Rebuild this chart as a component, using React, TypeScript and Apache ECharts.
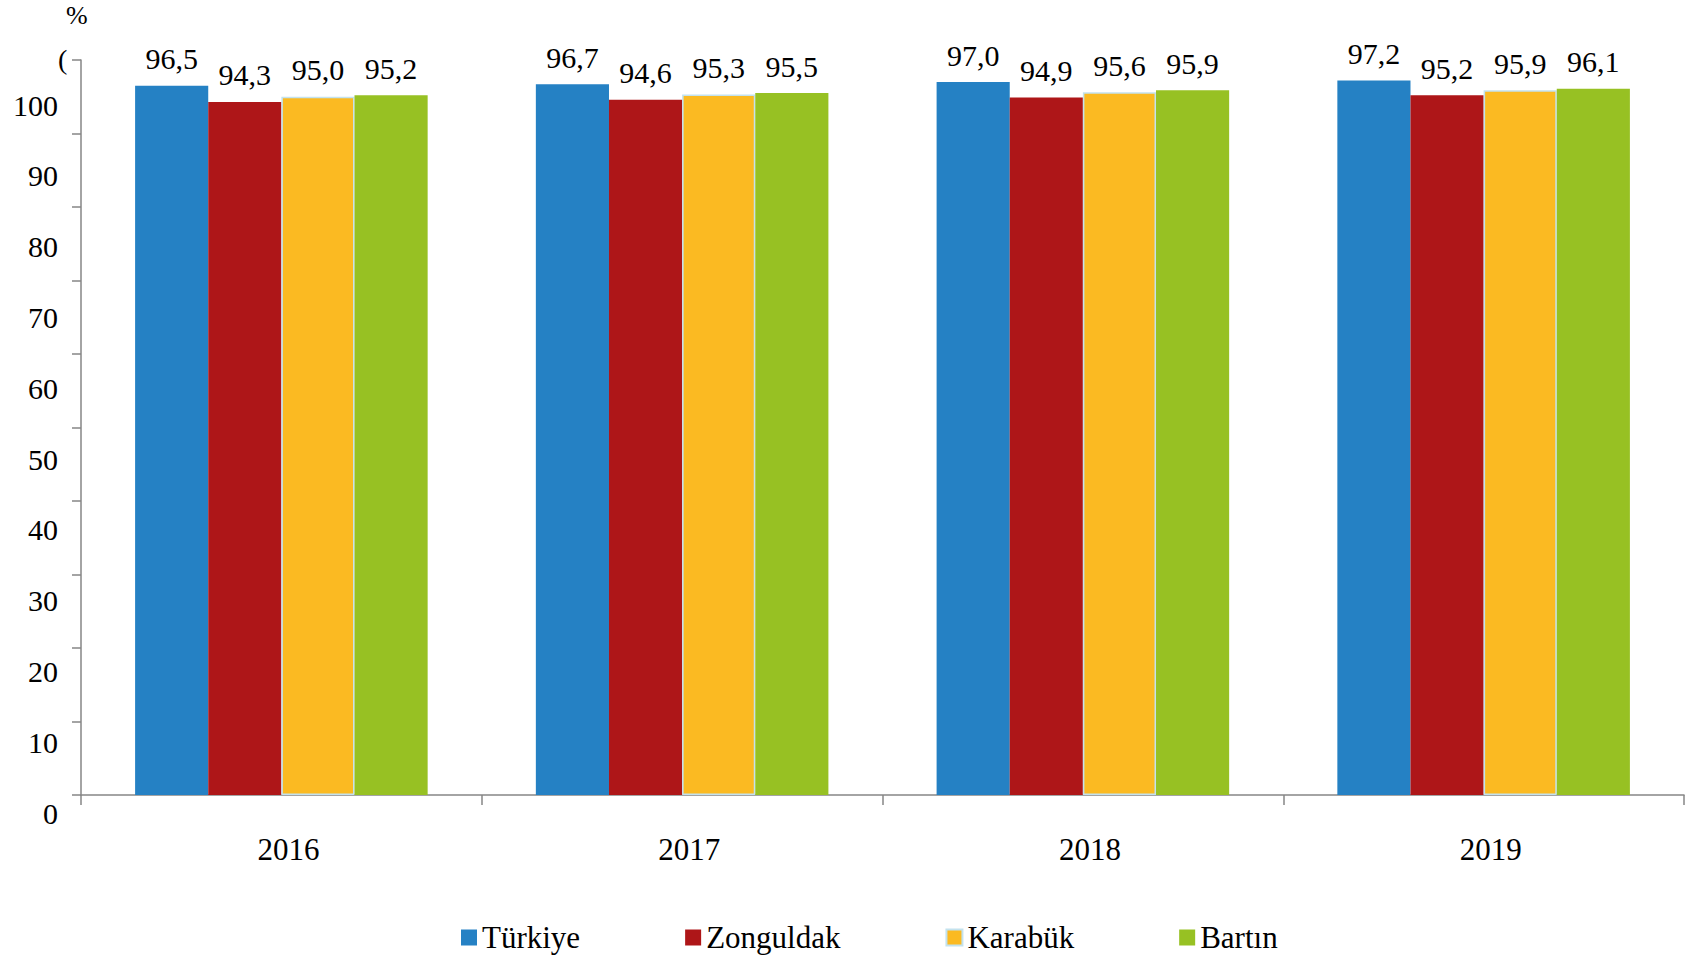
import React, { useEffect, useRef } from 'react';
import * as echarts from 'echarts';

const years = ['2016', '2017', '2018', '2019'];
const seriesNames = ['Türkiye', 'Zonguldak', 'Karabük', 'Bartın'];
const turkiye = [96.5, 96.7, 97.0, 97.2];
const zonguldak = [94.3, 94.6, 94.9, 95.2];
const karabuk = [95.0, 95.3, 95.6, 95.9];
const bartin = [95.2, 95.5, 95.9, 96.1];
const unitLabel = '%';
const cutLabel = '(';

const FONT = '"Liberation Serif", "DejaVu Serif", serif';
const colors = ['#2581c4', '#ae1618', '#fbba22', '#97c123'];

export default function App() {
  const ref = useRef<HTMLDivElement>(null);
  useEffect(() => {
    document.body.style.margin = '0';
    document.body.style.overflow = 'hidden';
    const chart = echarts.init(ref.current!, undefined, { renderer: 'svg' });
    const values = [turkiye, zonguldak, karabuk, bartin];
    const fmt = (p: any) => Number(p.value).toFixed(1).replace('.', ',');
    chart.setOption({
      animation: false,
      backgroundColor: '#ffffff',
      textStyle: { fontFamily: FONT },
      legend: {
        data: seriesNames,
        left: 456,
        top: 917,
        icon: 'rect',
        itemWidth: 16,
        itemHeight: 16,
        itemGap: 105,
        textStyle: { fontFamily: FONT, fontSize: 31, color: '#000' },
      },
      graphic: [
        { type: 'text', left: 66, top: 2, style: { text: unitLabel, font: `26px ${FONT}`, fill: '#000' } },
        { type: 'text', left: 58, top: 45, style: { text: cutLabel, font: `28px ${FONT}`, fill: '#000' } },
      ],
      grid: [
        { left: 81, right: 12, top: 60, bottom: 160 },
        { left: 81, right: 12, top: 105, bottom: 142 },
      ],
      xAxis: [
        {
          type: 'category',
          data: years,
          gridIndex: 0,
          axisLine: { show: true, lineStyle: { color: '#868686', width: 1.5 } },
          axisTick: { show: true, length: 10, lineStyle: { color: '#868686', width: 1.5 } },
          axisLabel: { margin: 39, fontSize: 31, color: '#000', fontFamily: FONT, padding: [0, 0, 0, 14] },
        },
        { type: 'value', gridIndex: 1, show: false },
      ],
      yAxis: [
        {
          type: 'value',
          gridIndex: 0,
          min: 0,
          max: 100,
          interval: 10,
          axisLine: { show: true, lineStyle: { color: '#868686', width: 1.5 } },
          axisTick: { show: true, length: 9, lineStyle: { color: '#868686', width: 1.5 } },
          axisLabel: { show: false },
          splitLine: { show: false },
        },
        {
          type: 'value',
          gridIndex: 1,
          min: 0,
          max: 100,
          interval: 10,
          axisLine: { show: false },
          axisTick: { show: false },
          splitLine: { show: false },
          axisLabel: { margin: 23, fontSize: 30, color: '#000', fontFamily: FONT },
        },
      ],
      series: seriesNames.map((name, i) => ({
        name,
        type: 'bar',
        xAxisIndex: 0,
        yAxisIndex: 0,
        data: values[i],
        barGap: '0%',
        barCategoryGap: '27%',
        itemStyle: {
          color: colors[i],
          borderColor: i === 2 ? '#c3e2ee' : colors[i],
          borderWidth: i === 2 ? 1.5 : 0,
        },
        label: {
          show: true,
          position: 'top',
          distance: 12,
          formatter: fmt,
          fontSize: 30,
          color: '#000',
          fontFamily: FONT,
        },
      })),
    });
    return () => chart.dispose();
  }, []);
  return <div ref={ref} style={{ width: 1696, height: 955 }} />;
}
